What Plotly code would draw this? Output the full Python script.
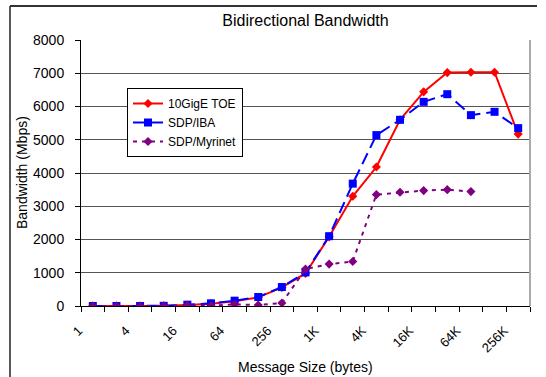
import plotly.graph_objects as go

categories = ["1", "2", "4", "8", "16", "32", "64", "128", "256", "512",
              "1K", "2K", "4K", "8K", "16K", "32K", "64K", "128K", "256K"]
tick_labels = ["1", "", "4", "", "16", "", "64", "", "256", "",
               "1K", "", "4K", "", "16K", "", "64K", "", "256K"]

toe_10gige = [0, 0, 0, 5, 30, 70, 140, 260, 560, 980,
              2080, 3300, 4180, 5600, 6440, 7020, 7030, 7030, 5170]
sdp_iba = [0, 0, 0, 5, 40, 80, 160, 270, 570, 1010,
           2100, 3680, 5140, 5600, 6140, 6370, 5740, 5840, 5350]
sdp_myrinet = [0, 0, 0, 0, 20, 5, 50, 30, 90, 1110,
               1260, 1340, 3350, 3420, 3470, 3500, 3440]

FONT = "Arial, Liberation Sans, sans-serif"
L, R, T, B = 81, 530, 40, 306
W, H = 546, 377
PW, PH = R - L, B - T

fig = go.Figure()
fig.add_trace(go.Scatter(
    x=categories, y=toe_10gige, name="10GigE TOE", mode="lines+markers",
    line=dict(color="#FF0000", width=2),
    marker=dict(symbol="diamond", size=7, color="#FF0000")))
fig.add_trace(go.Scatter(
    x=categories, y=sdp_iba, name="SDP/IBA", mode="lines+markers",
    line=dict(color="#0000FF", width=2, dash="12px,6px"),
    marker=dict(symbol="square", size=8, color="#0000FF")))
fig.add_trace(go.Scatter(
    x=categories[:len(sdp_myrinet)], y=sdp_myrinet, name="SDP/Myrinet", mode="lines+markers",
    line=dict(color="#800080", width=2, dash="4px,5px"),
    marker=dict(symbol="diamond", size=7, color="#800080")))

fig.update_layout(
    width=W, height=H,
    margin=dict(l=L, r=W - R, t=T, b=H - B, autoexpand=False),
    paper_bgcolor="white", plot_bgcolor="white",
    font=dict(family=FONT, size=13, color="black"),
    title=dict(text="Bidirectional Bandwidth", x=(L + R) / 2 / W, xanchor="center",
               y=1 - 20 / H, yanchor="middle", font=dict(size=16)),
    showlegend=True,
    legend=dict(x=(127 - L) / PW, y=(B - 88) / PH, xanchor="left", yanchor="top",
                bgcolor="white", bordercolor="black", borderwidth=1,
                font=dict(size=12), tracegroupgap=0, itemwidth=30),
    xaxis=dict(type="category", categoryorder="array", categoryarray=categories,
               tickmode="array", tickvals=categories, ticktext=tick_labels,
               tickson="boundaries", ticks="outside", ticklen=5, tickcolor="black",
               tickangle=-45, tickfont=dict(size=13),
               ticklabelshift=-14, ticklabelstandoff=11,
               showline=True, linecolor="black", linewidth=1,
               showgrid=False, zeroline=False, automargin=False,
               range=[-0.5, 18.5]),
    yaxis=dict(range=[0, 8000], dtick=1000, tick0=0,
               ticks="outside", ticklen=5, tickcolor="black", tickfont=dict(size=14),
               ticklabelstandoff=8,
               showline=True, linecolor="black", linewidth=1, automargin=False,
               showgrid=True, gridcolor="#555555", gridwidth=1, zeroline=False),
    annotations=[
        dict(text="Message Size (bytes)", xref="paper", yref="paper",
             x=(305 - L) / PW, y=(B - 367) / PH, xanchor="center", yanchor="middle",
             showarrow=False, font=dict(size=14)),
        dict(text="Bandwidth (Mbps)", xref="paper", yref="paper", textangle=-90,
             x=(22 - L) / PW, y=(B - 173) / PH, xanchor="center", yanchor="middle",
             showarrow=False, font=dict(size=14)),
    ],
    shapes=[
        dict(type="line", xref="paper", yref="paper", x0=1, x1=1, y0=0, y1=1,
             line=dict(color="#AAAAAA", width=2)),
        dict(type="line", xref="paper", yref="paper",
             x0=(10 - L) / PW, x1=(537 - L) / PW,
             y0=1 + (T - 6) / PH, y1=1 + (T - 6) / PH,
             line=dict(color="#333333", width=2), layer="below"),
        dict(type="line", xref="paper", yref="paper",
             x0=(10 - L) / PW, x1=(10 - L) / PW,
             y0=(B - 385) / PH, y1=1 + (T - 6) / PH,
             line=dict(color="#222222", width=1.5), layer="below"),
    ],
)

fig.write_html("out.html", config={"displayModeBar": False},
               post_script="document.body.style.margin='0';document.body.style.overflow='hidden';")
